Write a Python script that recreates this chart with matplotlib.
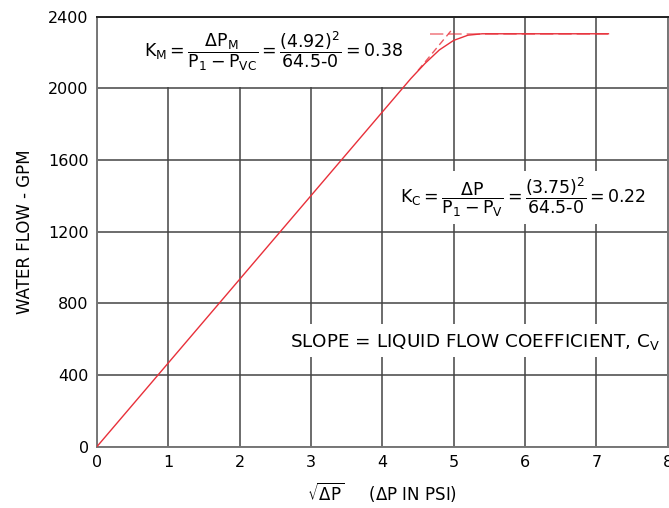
import matplotlib.pyplot as plt
from matplotlib.patches import Rectangle

plt.rcParams['font.family'] = ['DejaVu Sans']
plt.rcParams['mathtext.fontset'] = 'dejavusans'

# data
sqrt_dp = [0, 4.4, 4.6, 4.8, 5.0, 5.2, 5.4, 7.17]
flow = [0, 2055, 2140, 2215, 2268, 2297, 2305, 2305]

# dashed construction lines (straight-line extension and the choked-flow level)
ext_x = [4.5, 4.98]
ext_y = [2100, 2330]
choke_x = [4.67, 7.17]
choke_y = [2305, 2305]

x_ticks = [0, 1, 2, 3, 4, 5, 6, 7, 8]
y_ticks = [0, 400, 800, 1200, 1600, 2000, 2400]

fig = plt.figure(figsize=(6.69, 5.08), dpi=100)
ax = fig.add_axes([0.145, 0.121, 0.853, 0.846])

ax.set_xlim(0, 8)
ax.set_ylim(0, 2400)
ax.set_xticks(x_ticks)
ax.set_yticks(y_ticks)
ax.tick_params(labelsize=11.5, length=0, pad=6)
ax.grid(True, color='#444444', linewidth=1.1, zorder=0)
ax.set_axisbelow(True)
for s in ax.spines.values():
    s.set_linewidth(1.4)
    s.set_color('#777777')
ax.spines['top'].set_color('#222222')

red = '#e8303a'
ax.plot(sqrt_dp, flow, color=red, linewidth=1.0, zorder=3)
ax.plot(ext_x, ext_y, color=red, linewidth=1.0, dashes=(5, 3), alpha=0.8, zorder=3)
ax.plot(choke_x, choke_y, color=red, linewidth=1.2, dashes=(8, 3), alpha=0.6, zorder=3)

# white panels behind the annotations, hiding the grid there
for (x0, y0, w, h) in [(0.02, 2010, 4.25, 385), (4.17, 1240, 3.78, 300), (2.5, 500, 5.45, 182)]:
    ax.add_patch(Rectangle((x0, y0), w, h, facecolor='white', edgecolor='none', zorder=1))

ax.text(2.48, 2205,
        r'$\mathrm{K_M = \dfrac{\Delta P_M}{P_1 - P_{VC}} = \dfrac{(4.92)^2}{64.5\text{-}0} = 0.38}$',
        fontsize=12.5, ha='center', va='center', zorder=4)
ax.text(5.97, 1393,
        r'$\mathrm{K_C = \dfrac{\Delta P}{P_1 - P_V} = \dfrac{(3.75)^2}{64.5\text{-}0} = 0.22}$',
        fontsize=12.5, ha='center', va='center', zorder=4)
ax.text(5.3, 585, r'SLOPE = LIQUID FLOW COEFFICIENT, $\mathrm{C_V}$',
        fontsize=13.2, ha='center', va='center', zorder=4)

ax.set_ylabel('WATER FLOW - GPM', fontsize=12, labelpad=10)
ax.set_xlabel(r'$\sqrt{\mathrm{\Delta P}}$     ($\Delta$P IN PSI)', fontsize=12, labelpad=7)

plt.savefig('out.png', dpi=100)
